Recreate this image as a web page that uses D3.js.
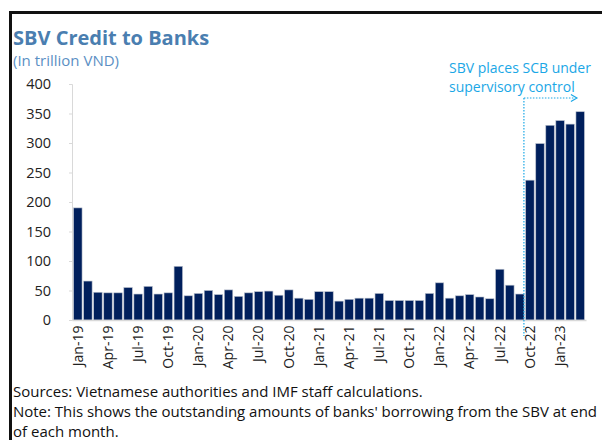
<!DOCTYPE html>
<meta charset="utf-8">
<style>
    body { margin: 0; background: #fff; }
    text { font-family: "Open Sans", sans-serif; }
    .axis path, .axis line { stroke: #d9d9d9; }
    .axis text { fill: #222; }
    .bar { fill: #001f5c; stroke: #b8bfcc; stroke-width: 0.6; }
</style>
<svg width="602" height="440"></svg>
<script src="https://d3js.org/d3.v7.min.js"></script>
<script>

    // monthly values, Jan-19 .. Mar-23 (trillion VND)
    var months = d3.timeMonths(new Date(2019, 0, 1), new Date(2023, 3, 1));
    var credit = [190, 66, 47, 46, 46, 55, 44, 57, 44, 46, 91, 41,
                  45, 50, 43, 51, 40, 46, 48, 49, 42, 51, 37, 35,
                  48, 48, 32, 35, 37, 37, 45, 33, 33, 33, 33, 45,
                  63, 37, 41, 43, 39, 36, 86, 59, 44, 237, 299, 330,
                  338, 332, 353];
    var yTicks = [0, 50, 100, 150, 200, 250, 300, 350, 400];
    var fmt = d3.timeFormat("%b-%y");

    var data = months.map(function(m, i) { return {m: fmt(m), v: credit[i]}; });

    var svg = d3.select("svg"),
        margin = {top: 84, right: 16, bottom: 120, left: 72},
        width = +svg.attr("width") - margin.left - margin.right,
        height = +svg.attr("height") - margin.top - margin.bottom;

    var x = d3.scaleBand().range([0, width]).padding(0.16).domain(data.map(function(d) { return d.m; })),
        y = d3.scaleLinear().range([height, 0]).domain([0, 400]);

    // frame
    svg.append("path")
        .attr("d", "M10.5,440V12.5H602")
        .attr("fill", "none")
        .attr("stroke", "#111")
        .attr("stroke-width", 3);

    svg.append("text")
        .attr("x", 13).attr("y", 45)
        .attr("font-size", 20).attr("font-weight", "bold")
        .attr("fill", "#4a7eb0")
        .text("SBV Credit to Banks");

    svg.append("text")
        .attr("x", 13).attr("y", 66)
        .attr("font-size", 15)
        .attr("fill", "#5b8fc4")
        .text("(In trillion VND)");

    var g = svg.append("g")
        .attr("transform", "translate(" + margin.left + "," + margin.top + ")");

    g.append("g")
        .attr("class", "axis axis--y")
        .call(d3.axisLeft(y).tickValues(yTicks).tickSize(3).tickPadding(18))
        .call(function(a) { a.selectAll("text").attr("font-size", 14.5); });

    var xTicks = data.filter(function(d, i) { return i % 3 === 0; }).map(function(d) { return d.m; });

    g.selectAll(".bar")
        .data(data)
        .enter().append("rect")
        .attr("class", "bar")
        .attr("x", function(d) { return x(d.m); })
        .attr("y", function(d) { return y(d.v); })
        .attr("width", x.bandwidth())
        .attr("height", function(d) { return height - y(d.v); });

    g.append("g")
        .attr("class", "axis axis--x")
        .attr("transform", "translate(0," + height + ")")
        .call(d3.axisBottom(x).tickValues(xTicks).tickSize(0).tickPadding(6))
        .call(function(a) {
            a.select(".domain").attr("stroke-width", 1.5);
            a.selectAll("text")
                .attr("font-size", 14)
                .attr("transform", "rotate(-90)")
                .attr("text-anchor", "end")
                .attr("dx", "-0.4em")
                .attr("dy", "0.34em")
                .attr("x", 0).attr("y", 0);
        });

    // annotation: SCB under supervisory control
    var lx = x("Oct-22") - (x.step() - x.bandwidth()) / 2 - 1;
    var ac = "#1aa7e6";
    g.append("line")
        .attr("x1", lx).attr("x2", lx)
        .attr("y1", 14).attr("y2", height + 16)
        .attr("stroke", ac).attr("stroke-width", 1.2)
        .attr("stroke-dasharray", "1.5,1.5");
    g.append("line")
        .attr("x1", lx).attr("x2", lx + 50)
        .attr("y1", 14).attr("y2", 14)
        .attr("stroke", ac).attr("stroke-width", 1.2)
        .attr("stroke-dasharray", "1.5,1.5");
    g.append("path")
        .attr("d", "M" + (lx + 47) + ",10.5L" + (lx + 53) + ",14L" + (lx + 47) + ",17.5")
        .attr("fill", "none").attr("stroke", ac).attr("stroke-width", 1.2);
    g.append("text")
        .attr("x", 377).attr("y", -11)
        .attr("font-size", 14).attr("fill", ac)
        .text("SBV places SCB under");
    g.append("text")
        .attr("x", 377).attr("y", 8)
        .attr("font-size", 14).attr("fill", ac)
        .text("supervisory control");

    var notes = ["Sources: Vietnamese authorities and IMF staff calculations.",
                 "Note: This shows the outstanding amounts of banks' borrowing from the SBV at end",
                 "of each month."];
    svg.selectAll(".note")
        .data(notes)
        .enter().append("text")
        .attr("class", "note")
        .attr("x", 13)
        .attr("y", function(d, i) { return 397 + i * 20; })
        .attr("font-size", 15)
        .attr("fill", "#111")
        .attr("textLength", function(d, i) { return i === 1 ? 584 : null; })
        .text(function(d) { return d; });
</script>
